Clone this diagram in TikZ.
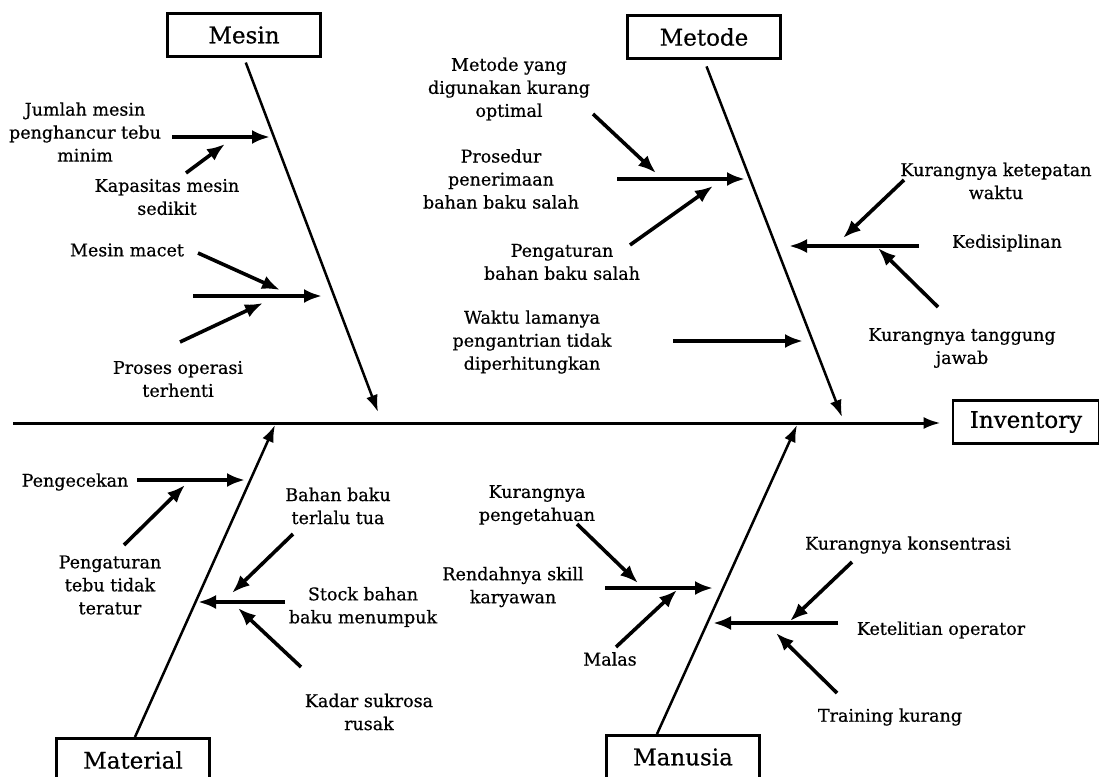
\documentclass[tikz,border=0pt]{standalone}
\usepackage{fontspec}
\setmainfont{DejaVu Serif}[FakeBold=0.6]
\usetikzlibrary{arrows.meta}

\begin{document}
\begin{tikzpicture}[x=1pt,y=-1pt]
    \tikzstyle{every node}=[font=\fontsize{17.5}{23}\selectfont]
    \tikzstyle{txt}=[align=center,inner sep=0pt]
    \tikzstyle{head}=[draw,line width=2.8pt,minimum width=153pt,minimum height=43pt,inner sep=0pt,font=\fontsize{23}{26}\selectfont]
    \tikzstyle{bone}=[line width=2.5pt,-{Latex[length=17pt,width=12pt]}]
    \tikzstyle{cause}=[line width=3.6pt,-{Latex[length=18pt,width=14pt]}]
    \useasboundingbox (0,0) rectangle (1099,776);
    \begin{scope}

       % heads
       \node[head] (mesin) at (244,35) {Mesin};
       \node[head] (metode) at (704,37) {Metode};
       \node[head] (material) at (133,760) {Material};
       \node[head] (manusia) at (683,757) {Manusia};
       \node[head,minimum width=146pt] (inventory) at (1026,422) {Inventory};

       % main line
       \coordinate (start) at (13,423);
       \draw[bone,line width=3pt,shorten >=11pt] (start) -- (start -| inventory.west);

       % Mesin
       \coordinate (mesintip) at (378,412);
       \draw[bone,shorten <=5pt] (mesin.south) -- (mesintip);

       \node[txt] (jumlah) at (85,132) {Jumlah mesin\\penghancur tebu\\minim};
       \coordinate (j1) at (172,137); \coordinate (j2) at (270,137);
       \draw[cause] (j1) -- (j2);
       \node[txt] (kapasitas) at (167,197) {Kapasitas mesin\\sedikit};
       \coordinate (k1) at (186,173); \coordinate (k2) at (225,144);
       \draw[cause] (k1) -- (k2);

       \node[txt] (macet) at (127,250) {Mesin macet};
       \coordinate (m1) at (198,253); \coordinate (m2) at (280,290);
       \draw[cause] (m1) -- (m2);
       \coordinate (h1) at (193,296); \coordinate (h2) at (322,296);
       \draw[cause] (h1) -- (h2);
       \node[txt] (proses) at (178,379) {Proses operasi\\terhenti};
       \coordinate (p1) at (180,342); \coordinate (p2) at (263,303);
       \draw[cause] (p1) -- (p2);

       % Metode
       \coordinate (metodetip) at (842,417);
       \draw[bone,shorten <=7pt] (metode.south) -- (metodetip);

       \node[txt] (optimal) at (509,89) {Metode yang\\digunakan kurang\\optimal};
       \coordinate (o1) at (593,114); \coordinate (o2) at (656,173);
       \draw[cause] (o1) -- (o2);
       \node[txt] (prosedur) at (501,179) {Prosedur\\penerimaan\\bahan baku salah};
       \coordinate (r1) at (617,179); \coordinate (r2) at (745,179);
       \draw[cause] (r1) -- (r2);
       \node[txt] (pengaturan) at (562,262) {Pengaturan\\bahan baku salah};
       \coordinate (g1) at (630,245); \coordinate (g2) at (713,186);
       \draw[cause] (g1) -- (g2);
       \node[txt] (waktu) at (532,342) {Waktu lamanya\\pengantrian tidak\\diperhitungkan};
       \coordinate (w1) at (673,341); \coordinate (w2) at (803,341);
       \draw[cause] (w1) -- (w2);

       \node[txt] (ketepatan) at (996,181) {Kurangnya ketepatan\\waktu};
       \coordinate (t1) at (904,180); \coordinate (t2) at (843,238);
       \draw[cause] (t1) -- (t2);
       \node[txt] (disiplin) at (1007,243) {Kedisiplinan};
       \coordinate (d1) at (919,246); \coordinate (d2) at (789,246);
       \draw[cause] (d1) -- (d2);
       \node[txt] (tanggung) at (962,348) {Kurangnya tanggung\\jawab};
       \coordinate (n1) at (938,307); \coordinate (n2) at (878,248);
       \draw[cause] (n1) -- (n2);

       % Material
       \coordinate (materialtip) at (275,425);
       \coordinate (materialfoot) at (135,737);
       \draw[bone] (materialfoot) -- (materialtip);

       \node[txt] (cek) at (75,482) {Pengecekan};
       \coordinate (c1) at (137,480); \coordinate (c2) at (245,480);
       \draw[cause] (c1) -- (c2);
       \node[txt] (tebu) at (110,585) {Pengaturan\\tebu tidak\\teratur};
       \coordinate (e1) at (124,545); \coordinate (e2) at (185,485);
       \draw[cause] (e1) -- (e2);
       \node[txt] (tua) at (338,506) {Bahan baku\\terlalu tua};
       \coordinate (u1) at (293,534); \coordinate (u2) at (232,593);
       \draw[cause] (u1) -- (u2);
       \node[txt] (stock) at (363,607) {Stock bahan\\baku menumpuk};
       \coordinate (s1) at (285,602); \coordinate (s2) at (198,602);
       \draw[cause] (s1) -- (s2);
       \node[txt] (kadar) at (369,712) {Kadar sukrosa\\rusak};
       \coordinate (a1) at (301,667); \coordinate (a2) at (238,608);
       \draw[cause] (a1) -- (a2);

       % Manusia
       \coordinate (manusiatip) at (797,425);
       \coordinate (manusiafoot) at (657,734);
       \draw[bone] (manusiafoot) -- (manusiatip);

       \node[txt] (pengetahuan) at (537,505) {Kurangnya\\pengetahuan};
       \coordinate (q1) at (577,524); \coordinate (q2) at (638,583);
       \draw[cause] (q1) -- (q2);
       \node[txt] (skill) at (513,587) {Rendahnya skill\\karyawan};
       \coordinate (y1) at (605,588); \coordinate (y2) at (713,588);
       \draw[cause] (y1) -- (y2);
       \node[txt] (malas) at (610,659) {Malas};
       \coordinate (l1) at (616,647); \coordinate (l2) at (677,590);
       \draw[cause] (l1) -- (l2);

       \node[txt] (konsentrasi) at (908,545) {Kurangnya konsentrasi};
       \coordinate (f1) at (852,562); \coordinate (f2) at (790,621);
       \draw[cause] (f1) -- (f2);
       \node[txt] (teliti) at (941,630) {Ketelitian operator};
       \coordinate (v1) at (838,623); \coordinate (v2) at (713,623);
       \draw[cause] (v1) -- (v2);
       \node[txt] (training) at (890,717) {Training kurang};
       \coordinate (i1) at (837,693); \coordinate (i2) at (776,633);
       \draw[cause] (i1) -- (i2);

     \end{scope}
  \end{tikzpicture}
\end{document}
